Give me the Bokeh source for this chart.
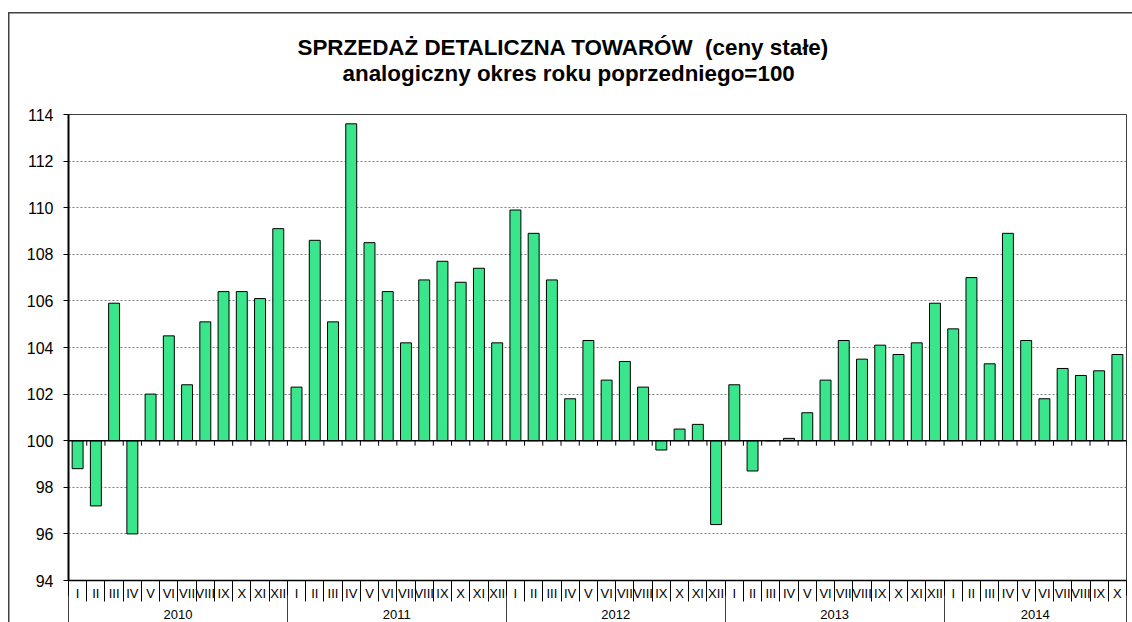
from bokeh.plotting import figure
from bokeh.models import (Range1d, FixedTicker, LinearAxis, Span, Title,
                          CustomJSTickFormatter, ColumnDataSource)
from bokeh.embed import file_html
from bokeh.resources import INLINE

# ---------------- data ----------------
title_line1 = "SPRZEDAŻ DETALICZNA TOWARÓW\u00a0 (ceny stałe)"
title_line2 = "analogiczny okres roku poprzedniego=100"

years = ["2010", "2011", "2012", "2013", "2014"]
month_names = ["I", "II", "III", "IV", "V", "VI", "VII", "VIII", "IX", "X", "XI", "XII"]

values_2010 = [98.8, 97.2, 105.9, 96.0, 102.0, 104.5, 102.4, 105.1, 106.4, 106.4, 106.1, 109.1]
values_2011 = [102.3, 108.6, 105.1, 113.6, 108.5, 106.4, 104.2, 106.9, 107.7, 106.8, 107.4, 104.2]
values_2012 = [109.9, 108.9, 106.9, 101.8, 104.3, 102.6, 103.4, 102.3, 99.6, 100.5, 100.7, 96.4]
values_2013 = [102.4, 98.7, 100.0, 100.1, 101.2, 102.6, 104.3, 103.5, 104.1, 103.7, 104.2, 105.9]
values_2014 = [104.8, 107.0, 103.3, 108.9, 104.3, 101.8, 103.1, 102.8, 103.0, 103.7]

base_value = 100
y_ticks = [94, 96, 98, 100, 102, 104, 106, 108, 110, 112, 114]

# ---------------- build ----------------
series = [values_2010, values_2011, values_2012, values_2013, values_2014]
tops, month_labels, bounds = [], [], [0]
for vals in series:
    tops += vals
    month_labels += month_names[:len(vals)]
    bounds.append(bounds[-1] + len(vals))
n = len(tops)
xs = [i + 0.5 for i in range(n)]
month_bounds = list(range(n + 1))
year_centers = [(bounds[i] + bounds[i + 1]) / 2 for i in range(len(years))]

FONT = "Liberation Sans"
TITLE_SIZE = "22.4px"

p = figure(width=1132, height=622, x_range=Range1d(0, n), y_range=Range1d(y_ticks[0], y_ticks[-1]),
           output_backend="svg", toolbar_location=None, title=None,
           min_border_left=68, min_border_right=6, min_border_top=114, min_border_bottom=42,
           background_fill_color="white", border_fill_color=None)
# outer chart border (drawn behind the transparent canvas border area)
p.styles = {
    "background": ("linear-gradient(#404040, #404040) 8px 12px / 1.5px 100% no-repeat, "
                   "linear-gradient(#404040, #404040) 8px 12px / 100% 1.5px no-repeat, white"),
}
p.outline_line_color = "#404040"
p.outline_line_width = 1

# grid
p.xgrid.grid_line_color = None
p.ygrid.ticker = FixedTicker(ticks=y_ticks)
p.ygrid.grid_line_color = "#808080"
p.ygrid.grid_line_dash = "2 2"
p.ygrid.grid_line_width = 1

# y axis
p.yaxis.ticker = FixedTicker(ticks=y_ticks)
p.yaxis.major_tick_out = 5
p.yaxis.major_tick_in = 0
p.yaxis.minor_tick_line_color = None
p.yaxis.axis_line_color = "black"
p.yaxis.axis_line_width = 2
p.yaxis.major_tick_line_color = "black"
p.yaxis.major_label_text_font = FONT
p.yaxis.major_label_text_font_size = "16px"
p.yaxis.major_label_text_color = "black"
p.yaxis.major_label_standoff = 10

# x axis: month labels
p.xaxis.ticker = FixedTicker(ticks=xs, minor_ticks=month_bounds)
p.xaxis.formatter = CustomJSTickFormatter(args=dict(labels=month_labels),
                                          code="const i = Math.floor(tick); return labels[i] || '';")
p.xaxis.major_tick_line_color = None
p.xaxis.major_tick_out = 0
p.xaxis.major_tick_in = 0
p.xaxis.minor_tick_out = 21
p.xaxis.minor_tick_in = 0
p.xaxis.minor_tick_line_color = "black"
p.xaxis.axis_line_color = "black"
p.xaxis.axis_line_width = 1.5
p.xaxis.major_label_text_font = FONT
p.xaxis.major_label_text_font_size = "13px"
p.xaxis.major_label_text_color = "black"
p.xaxis.major_label_standoff = -16

# x axis: year labels
year_axis = LinearAxis(
    ticker=FixedTicker(ticks=year_centers, minor_ticks=bounds),
    formatter=CustomJSTickFormatter(args=dict(labels=years, b=bounds),
        code="for (let i = 0; i < labels.length; i++) { if (tick >= b[i] && tick < b[i+1]) return labels[i]; } return '';"),
    axis_line_color=None, major_tick_line_color=None, major_tick_out=0, major_tick_in=0,
    minor_tick_out=24, minor_tick_in=8, minor_tick_line_color="#404040",
    major_label_text_font=FONT, major_label_text_font_size="13px",
    major_label_text_color="black", major_label_standoff=-18)
p.add_layout(year_axis, "below")

# bars
src = ColumnDataSource(dict(x=xs, top=tops))
p.vbar(x="x", top="top", bottom=base_value, width=0.6, source=src,
       fill_color="#3AE68C", line_color="black", line_width=1)

# base line at 100 with small ticks below
p.add_layout(Span(location=base_value, dimension="width", line_color="black", line_width=1.5))
tick_len = (y_ticks[-1] - y_ticks[0]) * 5 / 466
p.segment(x0=month_bounds, y0=[base_value] * (n + 1),
          x1=month_bounds, y1=[base_value - tick_len] * (n + 1),
          line_color="black", line_width=1)

# titles: spacer nearest the frame, then line 2, then line 1
p.add_layout(Title(text=" ", text_font_size="18px", standoff=5), "above")
p.add_layout(Title(text=title_line2, align="left", offset=274, vertical_align="top", standoff=0,
                   text_font=FONT, text_font_size=TITLE_SIZE, text_font_style="bold",
                   text_color="black"), "above")
p.add_layout(Title(text=title_line1, align="left", offset=229, vertical_align="bottom", standoff=2,
                   text_font=FONT, text_font_size=TITLE_SIZE, text_font_style="bold",
                   text_color="black"), "above")

open("out.html", "w").write(file_html(p, INLINE))
